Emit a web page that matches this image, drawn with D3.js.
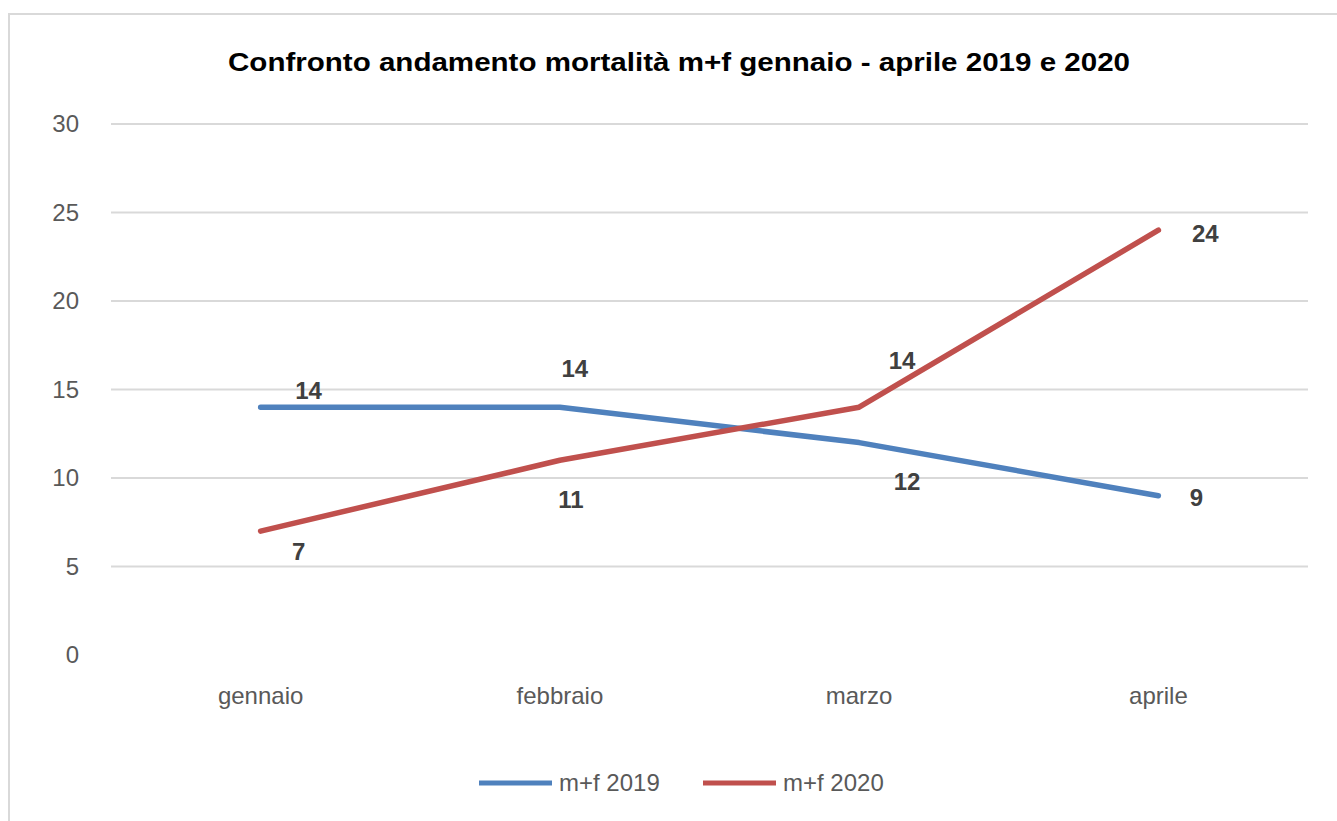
<!DOCTYPE html>
<html>
<head>
<meta charset="utf-8">
<script src="https://cdn.jsdelivr.net/npm/d3@7"></script>
<style>
  body { margin: 0; background: #fff; }
  text { font-family: "Liberation Sans", Arial, sans-serif; }
</style>
</head>
<body>
<div id="chart"></div>
<script>
// data
var months = ["gennaio", "febbraio", "marzo", "aprile"]
var seriesNames = ["m+f 2019", "m+f 2020"]
var values2019 = [14, 14, 12, 9]
var values2020 = [7, 11, 14, 24]
var yTicks = [0, 5, 10, 15, 20, 25, 30]
var titleText = "Confronto andamento mortalità m+f gennaio - aprile 2019 e 2020"

function drawChart(target) { //{{{
  var W = 1337, H = 821
  var plot = { left: 111, right: 1308, top: 124, bottom: 655 }
  var colors = ["#4f81bd", "#c0504d"]

  var svg = d3.select(target).append("svg")
    .attr("width", W)
    .attr("height", H)

  // outer frame (only top/left visible)
  svg.append("rect")
    .attr("x", 9).attr("y", 14)
    .attr("width", W + 20).attr("height", H + 20)
    .attr("fill", "none")
    .attr("stroke", "#d9d9d9")
    .attr("stroke-width", 2)

  var x = d3.scaleBand()
    .domain(months)
    .range([plot.left, plot.right])

  var y = d3.scaleLinear()
    .domain([0, 30])
    .range([plot.bottom, plot.top])

  // title
  svg.append("text")
    .attr("x", 679).attr("y", 71)
    .attr("text-anchor", "middle")
    .attr("font-size", 25)
    .attr("font-weight", "bold")
    .attr("fill", "#000")
    .attr("textLength", 902)
    .attr("lengthAdjust", "spacingAndGlyphs")
    .text(titleText)

  // gridlines (no line at 0)
  svg.append("g").selectAll("line")
    .data(yTicks.filter(d => d > 0))
    .enter().append("line")
      .attr("x1", plot.left).attr("x2", plot.right)
      .attr("y1", d => y(d)).attr("y2", d => y(d))
      .attr("stroke", "#d9d9d9")
      .attr("stroke-width", 2)

  // y axis
  var yAxis = svg.append("g")
    .attr("transform", "translate(" + (plot.left - 32) + ",0)")
    .call(d3.axisLeft(y).tickValues(yTicks).tickSize(0).tickPadding(0))
  yAxis.select(".domain").remove()
  yAxis.selectAll("text")
    .attr("font-size", 24)
    .attr("fill", "#595959")
    .attr("font-family", "Liberation Sans, Arial, sans-serif")

  // x axis
  var xAxis = svg.append("g")
    .attr("transform", "translate(0," + (plot.bottom + 32) + ")")
    .call(d3.axisBottom(x).tickSize(0).tickPadding(0))
  xAxis.select(".domain").remove()
  xAxis.selectAll("text")
    .attr("font-size", 24)
    .attr("fill", "#595959")
    .attr("font-family", "Liberation Sans, Arial, sans-serif")

  var cx = d => x(d) + x.bandwidth() / 2
  var line = d3.line()
    .x(d => cx(d.month))
    .y(d => y(d.value))

  var series = [values2019, values2020].map((vals, i) => ({
    name: seriesNames[i],
    color: colors[i],
    points: vals.map((v, j) => ({ month: months[j], value: v }))
  }))

  svg.append("g").selectAll("path")
    .data(series)
    .enter().append("path")
      .attr("d", d => line(d.points))
      .attr("fill", "none")
      .attr("stroke", d => d.color)
      .attr("stroke-width", 5.5)
      .attr("stroke-linejoin", "round")
      .attr("stroke-linecap", "round")

  // data label offsets (layout only) [series][point] -> [dx, dy]
  var labelOffsets = [
    [[48, -17], [15, -39], [48, 39], [38, 2]],
    [[38, 20], [11, 39], [43, -47], [47, 3]]
  ]
  series.forEach((s, i) => {
    svg.append("g").selectAll("text")
      .data(s.points)
      .enter().append("text")
        .attr("x", (d, j) => cx(d.month) + labelOffsets[i][j][0])
        .attr("y", (d, j) => y(d.value) + labelOffsets[i][j][1])
        .attr("dy", "0.35em")
        .attr("text-anchor", "middle")
        .attr("font-size", 24)
        .attr("font-weight", "bold")
        .attr("fill", "#404040")
        .text(d => d.value)
  })

  // legend
  var legendX = [479, 703]
  var legend = svg.append("g").selectAll("g")
    .data(series)
    .enter().append("g")
      .attr("transform", (d, i) => "translate(" + legendX[i] + ",783)")
  legend.append("line")
    .attr("x1", 0).attr("x2", 73)
    .attr("stroke", d => d.color)
    .attr("stroke-width", 5)
  legend.append("text")
    .attr("x", 80)
    .attr("dy", "0.35em")
    .attr("font-size", 24)
    .attr("fill", "#595959")
    .text(d => d.name)
} //}}}

drawChart("#chart")
</script>
</body>
</html>
